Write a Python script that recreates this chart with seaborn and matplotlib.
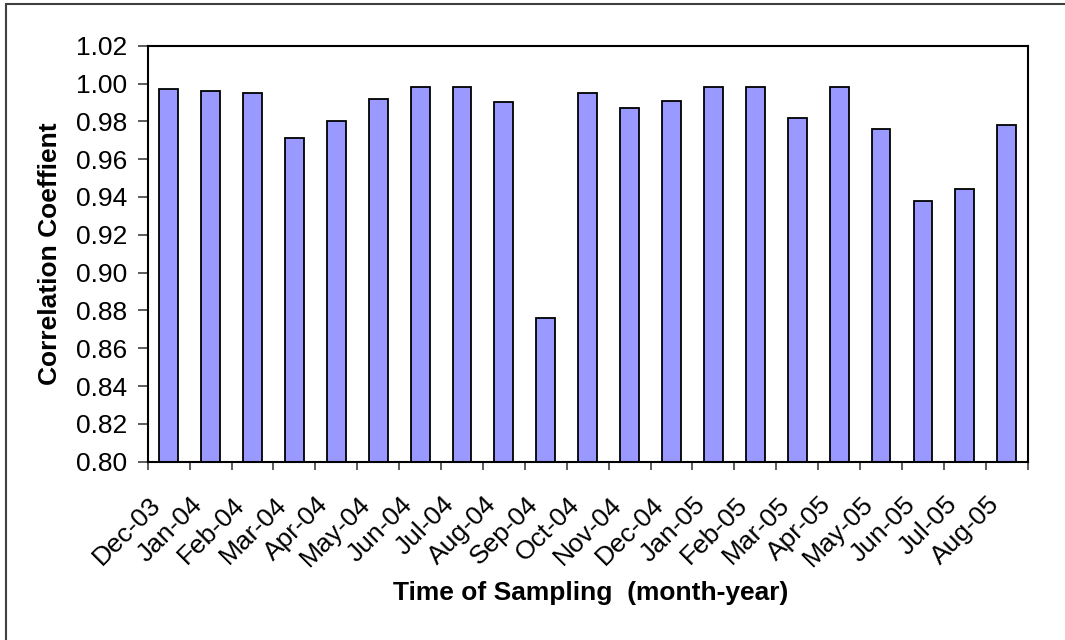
import matplotlib
matplotlib.use("Agg")
import matplotlib.pyplot as plt
import matplotlib.transforms as mtransforms
from matplotlib.patches import Rectangle
import seaborn as sns
import pandas as pd

# ==============================
# DATA
# ==============================
months = ["Dec-03", "Jan-04", "Feb-04", "Mar-04", "Apr-04", "May-04", "Jun-04",
          "Jul-04", "Aug-04", "Sep-04", "Oct-04", "Nov-04", "Dec-04", "Jan-05",
          "Feb-05", "Mar-05", "Apr-05", "May-05", "Jun-05", "Jul-05", "Aug-05"]
corr = [0.997, 0.996, 0.995, 0.971, 0.980, 0.992, 0.998,
        0.998, 0.990, 0.876, 0.995, 0.987, 0.991, 0.998,
        0.998, 0.982, 0.998, 0.976, 0.938, 0.944, 0.978]
yticks = [0.80, 0.82, 0.84, 0.86, 0.88, 0.90, 0.92, 0.94, 0.96, 0.98, 1.00, 1.02]

df = pd.DataFrame({"month": months, "corr": corr})

# ==============================
# PLOT
# ==============================
sns.set_theme(style="white")
plt.rcParams["font.family"] = ["Liberation Sans", "DejaVu Sans"]
plt.rcParams["text.color"] = "black"
plt.rcParams["xtick.color"] = "black"
plt.rcParams["ytick.color"] = "black"
plt.rcParams["axes.labelcolor"] = "black"

FS = 19

fig = plt.figure(figsize=(10.65, 6.4), dpi=100)
ax = fig.add_axes([0.1387, 0.2786, 0.965 - 0.1387, 0.9286 - 0.2786])

sns.barplot(data=df, x="month", y="corr", color="#9999FF", saturation=1,
            width=0.45, edgecolor="black", linewidth=1.3, ax=ax)

ax.set_ylim(0.80, 1.02)
ax.set_xlim(-0.5, len(months) - 0.5)
ax.set_yticks(yticks)
ax.set_yticklabels([f"{v:.2f}" for v in yticks], fontsize=FS)

# category boundary ticks (Excel style)
ax.set_xticks([i - 0.5 for i in range(len(months) + 1)], minor=False)
ax.set_xticklabels([""] * (len(months) + 1))
ax.tick_params(axis="x", which="major", direction="out", length=6, width=1.2,
               color="#404040", bottom=True)
ax.tick_params(axis="y", direction="out", length=7, width=1.2, color="#404040",
               left=True, pad=8)

# month labels at category centres
ax.set_xticks(range(len(months)), minor=True)
ax.set_xticklabels(months, minor=True, rotation=45, ha="right", va="top",
                   rotation_mode="anchor", fontsize=FS)
ax.tick_params(axis="x", which="minor", length=0, pad=22)
offset = mtransforms.ScaledTranslation(-20 / 100, 0, fig.dpi_scale_trans)
for lbl in ax.get_xticklabels(minor=True):
    lbl.set_transform(lbl.get_transform() + offset)

for s in ax.spines.values():
    s.set_color("black")
    s.set_linewidth(1.5)

ax.set_xlabel("")
ax.set_ylabel("Correlation Coeffient", fontsize=FS, fontweight="bold", labelpad=10)
fig.text(0.555, 1 - 593 / 640, "Time of Sampling  (month-year)", ha="center",
         va="center", fontsize=FS, fontweight="bold")

# outer chart border (cropped on right and bottom)
fig.patches.append(Rectangle((6 / 1065, -0.1), 1.2, 1 - 4 / 640 + 0.1,
                             transform=fig.transFigure, fill=False,
                             edgecolor="#404040", linewidth=1.5))

plt.savefig("out.png", dpi=100)
